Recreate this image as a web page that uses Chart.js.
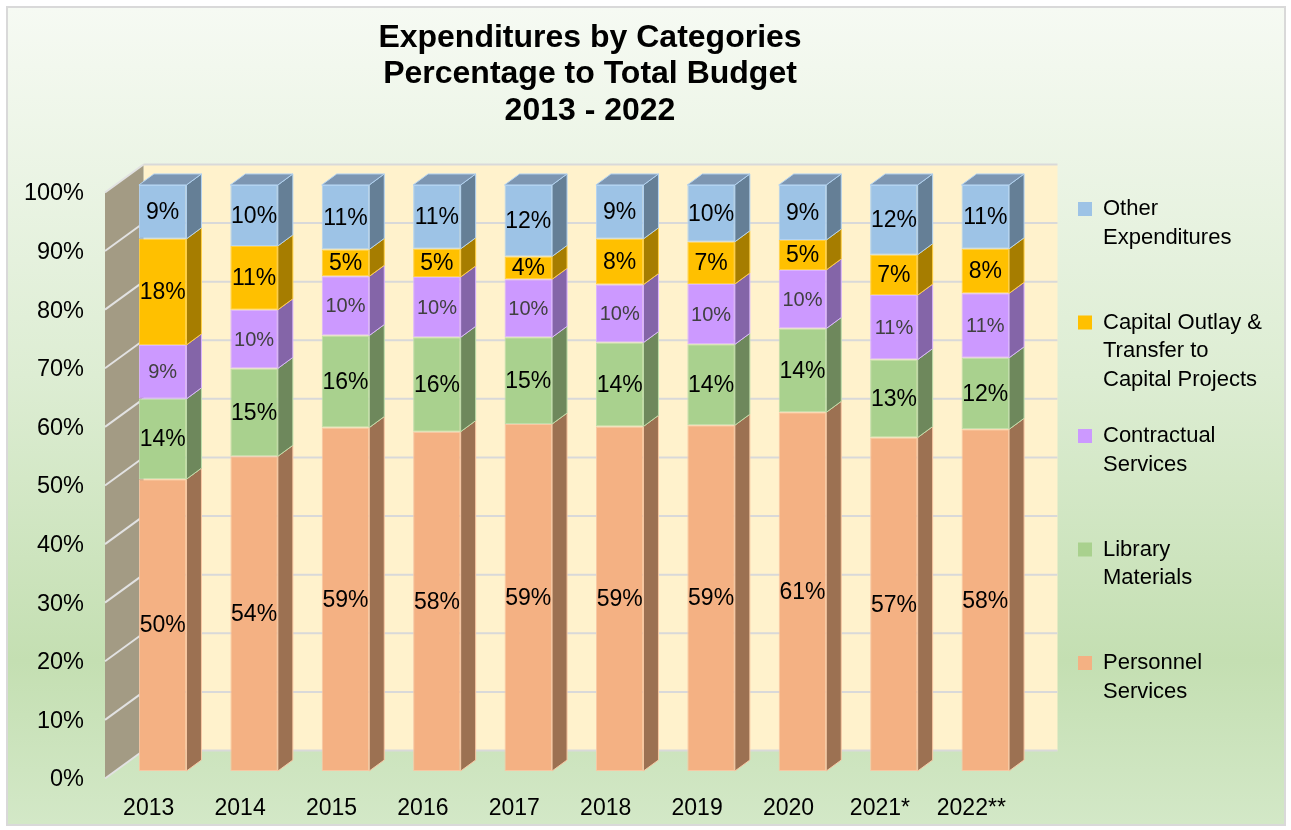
<!DOCTYPE html>
<html>
<head>
<meta charset="utf-8">
<title>Expenditures by Categories</title>
<script src="https://cdn.jsdelivr.net/npm/chart.js@4.4.1/dist/chart.umd.min.js"></script>
<style>
  html, body { margin: 0; padding: 0; background: #fff; }
  canvas { display: block; }
</style>
</head>
<body>
<canvas id="budgetChart" width="1291" height="830"></canvas>
<script>
// data (percent of total budget)
var years = ["2013", "2014", "2015", "2016", "2017", "2018", "2019", "2020", "2021*", "2022**"];
var personnel   = [49.8, 53.7, 58.6, 57.9, 59.2, 58.8, 59.0, 61.2, 56.9, 58.3];
var library     = [13.7, 15.0, 15.7, 16.1, 14.8, 14.3, 13.8, 14.3, 13.3, 12.2];
var contractual = [9.2, 10.0, 10.1, 10.3, 9.9, 9.9, 10.3, 10.0, 11.0, 11.0];
var capital     = [18.1, 10.9, 4.6, 4.8, 3.9, 7.8, 7.2, 5.1, 6.9, 7.6];
var other       = [9.2, 10.4, 11.0, 10.9, 12.2, 9.2, 9.7, 9.4, 11.9, 10.9];

var seriesNames = ["Personnel Services", "Library Materials", "Contractual Services",
  "Capital Outlay & Transfer to Capital Projects", "Other Expenditures"];
var legendLines = [["Personnel", "Services"], ["Library", "Materials"], ["Contractual", "Services"],
  ["Capital Outlay &", "Transfer to", "Capital Projects"], ["Other", "Expenditures"]];
var titleLines = ["Expenditures by Categories", "Percentage to Total Budget", "2013 - 2022"];

// styles
var frontColors = ["#F4B183", "#A9D18E", "#CC99FF", "#FFC000", "#9DC3E6"];
var edgeColors  = ["#F8C8A4", "#BFDDAA", "#DAB4FF", "#FFCF45", "#B3D3F1"];
var sideColors  = ["#9C7152", "#6E885C", "#8465A8", "#A67D00", "#657F96"];
var topColor = "#7D96B2";
var labelColors = ["#000", "#000", "#404040", "#000", "#000"];
var labelSizes = [23, 23, 20, 23, 23];

var barDepth = { x: 15, y: -11 };
var backOff = { x: 26.5, y: -20.5 };
var frontOff = { x: -12, y: 7.5 };

Chart.defaults.font.family = '"Liberation Sans", Arial, sans-serif';
Chart.defaults.color = "#000";

var backdrop = {
  id: "backdrop",
  beforeDraw: function(chart) {
    var ctx = chart.ctx, w = chart.width, h = chart.height;
    ctx.save();
    ctx.fillStyle = "#fff";
    ctx.fillRect(0, 0, w, h);
    var g = ctx.createLinearGradient(0, 8, 0, h - 6);
    g.addColorStop(0, "#F6FAF3");
    g.addColorStop(0.45, "#DDEDD3");
    g.addColorStop(0.8, "#C4DFB2");
    g.addColorStop(1, "#D3E8C7");
    ctx.fillStyle = g;
    ctx.fillRect(8, 8, w - 15, h - 14);
    ctx.strokeStyle = "#D9D9D9";
    ctx.lineWidth = 2;
    ctx.strokeRect(7, 7, w - 13, h - 12);
    ctx.restore();
  },
  afterLayout: function(chart) {
    var a = chart.chartArea;
    var lg = chart.legend;
    if (lg) {
      var lh = lg.height;
      lg.left = a.right + 19.3;
      lg.right = chart.width - 4;
      lg.width = lg.right - lg.left;
      lg.top = a.top - 14.7;
      lg.bottom = lg.top + lh;
    }
    var t = chart.titleBlock;
    if (t) {
      t.left += 16;
      t.right += 16;
    }
  },
  beforeDatasetsDraw: function(chart) {
    var ctx = chart.ctx, a = chart.chartArea, ys = chart.scales.y;
    var top = ys.getPixelForValue(100), bot = ys.getPixelForValue(0);
    ctx.save();
    // back wall
    ctx.fillStyle = "#FFF2CC";
    ctx.fillRect(a.left + backOff.x, top + backOff.y, a.right - a.left, bot - top);
    // side wall
    ctx.fillStyle = "#A39B84";
    ctx.beginPath();
    ctx.moveTo(a.left + frontOff.x, top + frontOff.y);
    ctx.lineTo(a.left + backOff.x, top + backOff.y);
    ctx.lineTo(a.left + backOff.x, bot + backOff.y);
    ctx.lineTo(a.left + frontOff.x, bot + frontOff.y);
    ctx.closePath();
    ctx.fill();
    // gridlines on both walls
    ctx.lineWidth = 2;
    ys.ticks.forEach(function(t) {
      var p = ys.getPixelForValue(t.value);
      ctx.strokeStyle = "#E2E2E2";
      ctx.beginPath();
      ctx.moveTo(a.left + frontOff.x, p + frontOff.y);
      ctx.lineTo(a.left + backOff.x, p + backOff.y);
      ctx.stroke();
      ctx.strokeStyle = "#D9D9D9";
      ctx.beginPath();
      ctx.moveTo(a.left + backOff.x, p + backOff.y);
      ctx.lineTo(a.right + backOff.x, p + backOff.y);
      ctx.stroke();
    });
    ctx.restore();
  },
  afterDatasetsDraw: function(chart) {
    var ctx = chart.ctx;
    var sets = chart.data.datasets;
    var lastVisible = -1;
    sets.forEach(function(ds, i) { if (chart.isDatasetVisible(i)) lastVisible = i; });
    ctx.save();
    ctx.lineWidth = 1;
    sets.forEach(function(ds, i) {
      if (!chart.isDatasetVisible(i)) return;
      var meta = chart.getDatasetMeta(i);
      meta.data.forEach(function(bar) {
        var p = bar.getProps(["x", "y", "base", "width"], true);
        var l = p.x - p.width / 2, r = p.x + p.width / 2;
        var t = Math.min(p.y, p.base), b = Math.max(p.y, p.base);
        ctx.strokeStyle = edgeColors[i];
        ctx.fillStyle = sideColors[i];
        ctx.beginPath();
        ctx.moveTo(r, t);
        ctx.lineTo(r + barDepth.x, t + barDepth.y);
        ctx.lineTo(r + barDepth.x, b + barDepth.y);
        ctx.lineTo(r, b);
        ctx.closePath();
        ctx.fill();
        ctx.stroke();
        if (i === lastVisible) {
          ctx.fillStyle = topColor;
          ctx.beginPath();
          ctx.moveTo(l, t);
          ctx.lineTo(l + barDepth.x, t + barDepth.y);
          ctx.lineTo(r + barDepth.x, t + barDepth.y);
          ctx.lineTo(r, t);
          ctx.closePath();
          ctx.fill();
          ctx.stroke();
        }
      });
    });
    // value labels
    ctx.textAlign = "center";
    ctx.textBaseline = "middle";
    sets.forEach(function(ds, i) {
      if (!chart.isDatasetVisible(i)) return;
      var meta = chart.getDatasetMeta(i);
      ctx.fillStyle = labelColors[i];
      ctx.font = labelSizes[i] + 'px "Liberation Sans", Arial, sans-serif';
      meta.data.forEach(function(bar, j) {
        var p = bar.getProps(["x", "y", "base"], true);
        ctx.fillText(Math.round(ds.data[j]) + "%", p.x, (p.y + p.base) / 2 + 1);
      });
    });
    ctx.restore();
  }
};

var seriesData = [personnel, library, contractual, capital, other];

var ctx = document.getElementById("budgetChart").getContext("2d");
var budgetChart = new Chart(ctx, {
  type: "bar",
  data: {
    labels: years,
    datasets: seriesData.map(function(d, i) {
      return {
        label: seriesNames[i],
        data: d,
        backgroundColor: frontColors[i],
        borderColor: edgeColors[i],
        borderWidth: 1,
        borderSkipped: false,
        categoryPercentage: 1,
        barPercentage: 0.52
      };
    })
  },
  plugins: [backdrop],
  options: {
    responsive: false,
    animation: false,
    layout: { padding: { top: 8, left: 25, right: 60, bottom: 9 } },
    plugins: {
      title: {
        display: true,
        text: titleLines,
        fullSize: false,
        color: "#000",
        font: { size: 32, weight: "bold", lineHeight: 1.14 },
        padding: { top: 11.5, bottom: 56 }
      },
      legend: {
        position: "right",
        align: "start",
        reverse: true,
        maxWidth: 200,
        labels: {
          boxWidth: 14,
          boxHeight: 14,
          padding: 27.7,
          color: "#000",
          font: { size: 22, lineHeight: 1.3 },
          generateLabels: function(chart) {
            var items = Chart.defaults.plugins.legend.labels.generateLabels(chart);
            items.forEach(function(it) {
              var lines = legendLines[it.datasetIndex].slice();
              while (lines.length < 3) lines.push("");
              it.text = lines;
              it.lineWidth = 0;
            });
            return items;
          }
        }
      },
      tooltip: { enabled: false }
    },
    scales: {
      x: {
        stacked: true,
        grid: { display: false, drawTicks: false },
        border: { display: false },
        ticks: { padding: 24, labelOffset: -14, maxRotation: 0, autoSkip: false, color: "#000", font: { size: 23 } },
        afterFit: function(s) { s.height = 50; }
      },
      y: {
        stacked: true,
        min: 0,
        max: 100,
        grid: { display: false, drawTicks: false },
        border: { display: false },
        ticks: {
          stepSize: 10,
          padding: 33,
          labelOffset: 9,
          color: "#000",
          font: { size: 23.5 },
          callback: function(v) { return v + "%"; }
        },
        afterFit: function(s) { s.width = 92; }
      }
    }
  }
});
</script>
</body>
</html>
